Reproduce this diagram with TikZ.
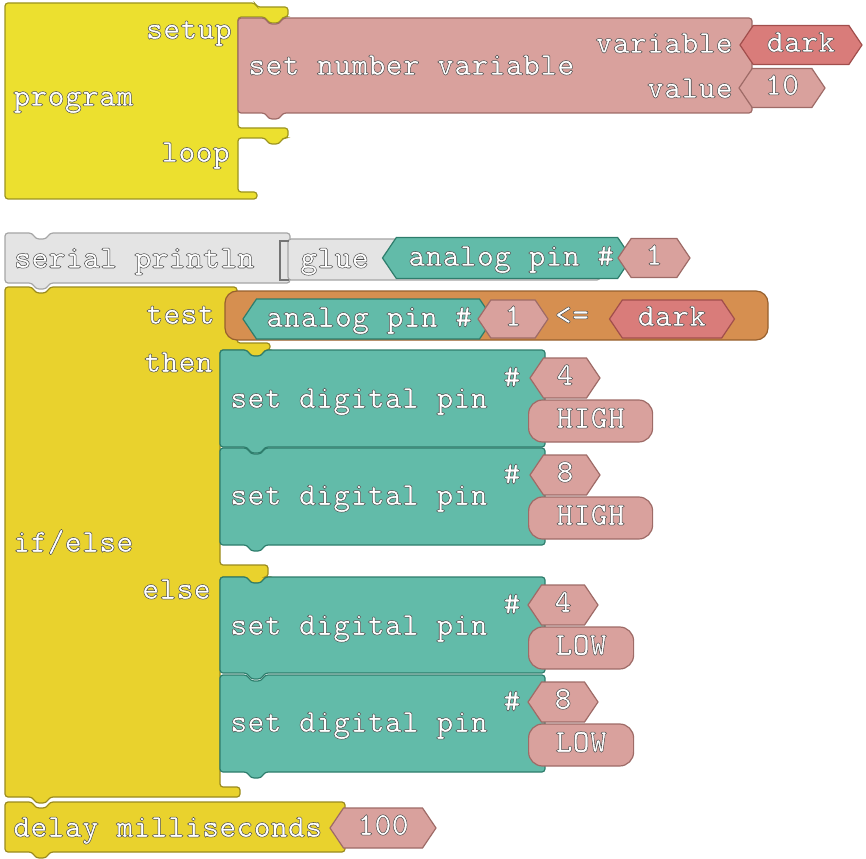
\documentclass[tikz,border=0pt]{standalone}
\usepackage{fontspec}
\usetikzlibrary{shapes.symbols}
\definecolor{progfill}{HTML}{ECE02F}
\definecolor{progedge}{HTML}{9C9420}
\definecolor{ctrlfill}{HTML}{E9D22D}
\definecolor{ctrledge}{HTML}{9A8A1E}
\definecolor{varfill}{HTML}{D9A19D}
\definecolor{varedge}{HTML}{9E6B67}
\definecolor{darkfill}{HTML}{D97C7A}
\definecolor{darkedge}{HTML}{A14E4C}
\definecolor{pinfill}{HTML}{62BBA9}
\definecolor{pinedge}{HTML}{2E7D6C}
\definecolor{testfill}{HTML}{D68F50}
\definecolor{testedge}{HTML}{97602E}
\definecolor{printfill}{HTML}{E4E4E4}
\definecolor{printedge}{HTML}{A6A6A6}
% white letters with a grey outline (fill and stroke)
\newcommand\ct[1]{\special{pdf:literal direct 2 Tr 0.5 w 0.3 G}#1\special{pdf:literal direct 0 Tr}}
% notch on a top edge (going right), tab on a bottom edge (going left)
\newcommand\blocknotch{-- ++(4,6) -- ++(10,0) -- ++(4,-6)}
\newcommand\blocktab{-- ++(-4,6) -- ++(-10,0) -- ++(-4,-6)}

\begin{document}
\begin{tikzpicture}
    [x=1pt,y=-1pt,
     every node/.style={font=\ttfamily\bfseries\fontsize{32.7}{34}\selectfont, text=white},
     lbl/.style={inner sep=0, text height=20, text depth=6},
     block/.style={line width=1.2pt, rounded corners=3pt},
     valhex/.style={signal, signal to=west and east, signal pointer angle=112,
        draw=varedge, fill=varfill, line width=1.2pt, minimum height=39, inner sep=0,
        text height=20, text depth=6},
     darkhex/.style={valhex, draw=darkedge, fill=darkfill},
     pinhex/.style={valhex, draw=pinedge, fill=pinfill},
     valround/.style={rectangle, rounded corners=14, draw=varedge, fill=varfill,
        line width=1.2pt, minimum height=42, inner sep=0, text height=20, text depth=6}]
  \useasboundingbox (0,0) rectangle (866,858);

  % program
  \draw[block, fill=progfill, draw=progedge] (5,3) -- (255,3) -- (257,7) -- (288,7)
    -- (288,17) -- (283,17) \blocktab -- (238,17) -- (238,128) -- (288,128)
    -- (288,138) -- (283,138) \blocktab -- (238,138) -- (238,192) -- (257,192)
    -- (257,199) -- (5,199) -- cycle;
  \draw[block, fill=varfill, draw=varedge] (238,18) -- (265,18) \blocknotch
    -- (752,18) -- (752,113) -- (283,113) \blocktab -- (238,113) -- cycle;
  \node[lbl, anchor=east] (setup) at (232,32) {\ct{setup}};
  \node[lbl, anchor=west] (program) at (13,99) {\ct{program}};
  \node[lbl, anchor=east] (loop) at (230,155) {\ct{loop}};
  \node[lbl, anchor=west] (setvar) at (248,68) {\ct{set number variable}};
  \node[lbl, anchor=east] (varname) at (733,46) {\ct{variable}};
  \node[lbl, anchor=east] (varvalue) at (733,91) {\ct{value}};
  \node[darkhex, minimum width=122] (dark1) at (801,45) {\ct{dark}};
  \node[valhex, minimum width=86] (ten) at (782,88) {\ct{10}};

  % serial println
  \draw[block, fill=printfill, draw=printedge] (5,233) -- (32,233) \blocknotch
    -- (290,233) -- (290,283) -- (50,283) \blocktab -- (5,283) -- cycle;
  \draw[block, fill=printfill, draw=printedge] (288,239) rectangle (600,280);
  \draw[line width=1.5pt, draw=printedge!70!black] (289,241) -- (280,241) -- (280,280) -- (289,280);
  \node[lbl, anchor=west] (println) at (14,261) {\ct{serial println}};
  \node[lbl, anchor=west] (glue) at (300,261) {\ct{glue}};
  \node[pinhex, minimum width=249, minimum height=41] (apin1) at (507,258) {};
  \node[lbl, anchor=west] (apin1lbl) at (408,259) {\ct{analog pin \#}};
  \node[valhex, minimum width=72] (pin1) at (654,258) {\ct{1}};

  % if/else
  \draw[block, fill=ctrlfill, draw=ctrledge] (5,287) -- (32,287) \blocknotch
    -- (237,287) -- (237,343) -- (270,343) -- (270,350) -- (265,350) \blocktab
    -- (220,350) -- (220,565) -- (268,565) -- (268,577) -- (265,577) \blocktab
    -- (220,577) -- (220,787) -- (240,787) -- (240,797) -- (50,797) \blocktab
    -- (5,797) -- cycle;
  \node[lbl, anchor=east] (test) at (215,317) {\ct{test}};
  \node[lbl, anchor=east] (then) at (213,365) {\ct{then}};
  \node[lbl, anchor=west] (ifelse) at (13,545) {\ct{if/else}};
  \node[lbl, anchor=east] (else) at (211,592) {\ct{else}};

  % test
  \draw[block, fill=testfill, draw=testedge, rounded corners=12pt] (225,291) rectangle (768,340);
  \node[pinhex, minimum width=250, minimum height=40] (apin2) at (368,319) {};
  \node[lbl, anchor=west] (apin2lbl) at (266,320) {\ct{analog pin \#}};
  \node[valhex, minimum width=70, minimum height=38] (pin2) at (513,319) {\ct{1}};
  \node[lbl] (cmp) at (572,318) {\ct{<=}};
  \node[darkhex, minimum width=125, minimum height=38] (dark2) at (672,319) {\ct{dark}};

  % set digital pin blocks
  \foreach \t/\b in {350/447, 448/545, 577/673, 675/772}
    \draw[block, fill=pinfill, draw=pinedge] (220,\t) -- (247,\t) \blocknotch
      -- (545,\t) -- (545,\b) -- (265,\b) \blocktab -- (220,\b) -- cycle;
  \foreach \y/\n/\p/\v/\w [count=\i] in {401/4/565/HIGH/124, 498/8/565/HIGH/124,
      628/4/563/LOW/105, 725/8/563/LOW/105} {
    \node[lbl, anchor=west] (setpin\i) at (230,\y) {\ct{set digital pin}};
    \node[lbl] (hash\i) at (512,\y-21) {\ct{\#}};
    \node[valhex, minimum width=70, minimum height=40] (num\i) at (\p,\y-23) {\ct{\n}};
    \node[valround, minimum width=\w, anchor=west] (level\i) at (528,\y+20) {\ct{\v}};
  }

  % delay
  \draw[block, fill=ctrlfill, draw=ctrledge] (5,802) -- (32,802) \blocknotch
    -- (345,802) -- (345,852) -- (50,852) \blocktab -- (5,852) -- cycle;
  \node[lbl, anchor=west] (delay) at (13,830) {\ct{delay milliseconds}};
  \node[valhex, minimum width=106, minimum height=40] (wait) at (383,828) {\ct{100}};
\end{tikzpicture}
\end{document}
